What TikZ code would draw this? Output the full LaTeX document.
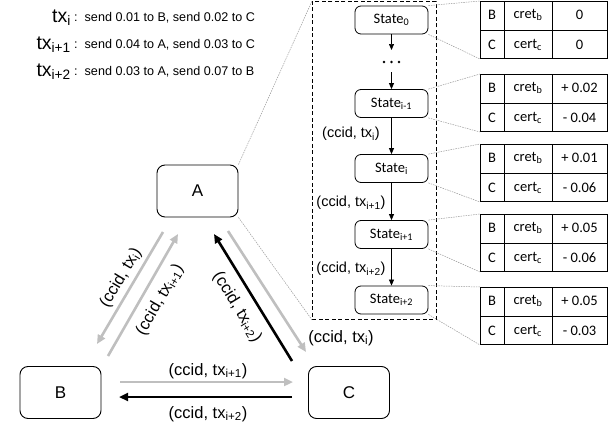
\documentclass[tikz,border=0pt]{standalone}
\usepackage{fontspec}
\setmainfont{Liberation Sans}
\newfontfamily\calib{Carlito}
\usetikzlibrary{arrows.meta}
\colorlet{lgrey}{black!25}
\colorlet{dgrey}{black!40}
\tikzset{
  party/.style={draw, rounded corners=8pt, line width=0.9pt, minimum width=81pt, minimum height=52pt, inner sep=0pt, font=\fontsize{17}{20}\selectfont},
  statebox/.style={draw, rounded corners=6pt, line width=0.8pt, minimum width=73pt, minimum height=28pt, inner sep=0pt, font=\calib\fontsize{14.5}{16}\selectfont},
  msg/.style={line width=2.6pt, -{Triangle[length=9pt,width=8pt]}},
  gmsg/.style={msg, draw=lgrey},
  bmsg/.style={msg, draw=black},
  chainarrow/.style={line width=0.7pt, -{Triangle[length=6pt,width=5pt]}},
  lbl/.style={font=\fontsize{16.5}{19}\selectfont, inner sep=1pt},
  clbl/.style={font=\fontsize{14.5}{17}\selectfont, inner sep=1pt},
  txl/.style={anchor=east, inner sep=0pt, font=\fontsize{19.5}{22}\selectfont},
  txd/.style={anchor=west, inner sep=0pt, font=\fontsize{12.6}{15}\selectfont},
  guide/.style={draw=dgrey, line width=0.5pt, dash pattern=on 1.5pt off 1pt},
  cell/.style={font=\calib\fontsize{14.5}{16}\selectfont, inner sep=0pt},
  dot/.style={circle, fill=black, inner sep=0pt, minimum size=2.6pt},
}
\newcommand{\balancetable}[4]{%
  \node[draw, line width=1pt, minimum width=127pt, minimum height=57pt, inner sep=0pt, anchor=north west] (#1) at (480,#2) {};
  \draw[line width=1pt] (#1.west) -- (#1.east);
  \draw[line width=1pt] ([xshift=24pt]#1.north west) -- ([xshift=24pt]#1.south west);
  \draw[line width=1pt] ([xshift=72pt]#1.north west) -- ([xshift=72pt]#1.south west);
  \node[cell] (#1b) at ([xshift=12pt,yshift=-14.25pt]#1.north west) {B};
  \node[cell] (#1c) at ([xshift=12pt,yshift=14.25pt]#1.south west) {C};
  \node[cell] (#1rb) at ([xshift=48pt,yshift=-14.25pt]#1.north west) {cret\textsubscript{b}};
  \node[cell] (#1rc) at ([xshift=48pt,yshift=14.25pt]#1.south west) {cert\textsubscript{c}};
  \node[cell] (#1vb) at ([xshift=99.5pt,yshift=-14.25pt]#1.north west) {#3};
  \node[cell] (#1vc) at ([xshift=99.5pt,yshift=14.25pt]#1.south west) {#4};
}
\begin{document}
\begin{tikzpicture}[x=1pt,y=-1pt]
\useasboundingbox (0,0) rectangle (616,423);

% transaction list
\node[txl] (t1) at (71,18) {tx\textsubscript{i}};
\node[txl] (t2) at (71,45) {tx\textsubscript{i+1}};
\node[txl] (t3) at (71,72) {tx\textsubscript{i+2}};
\node[txd] (d1) at (74,18) {:\hspace{7pt}send 0.01 to B, send 0.02 to C};
\node[txd] (d2) at (74,45) {:\hspace{7pt}send 0.04 to A, send 0.03 to C};
\node[txd] (d3) at (74,72) {:\hspace{7pt}send 0.03 to A, send 0.07 to B};

% parties
\node[party] (A) at (197.5,191) {A};
\node[party] (B) at (60.5,392.5) {B};
\node[party] (C) at (349,392.5) {C};

% state chain frame
\node[draw, line width=0.9pt, dash pattern=on 4pt off 2.5pt, minimum width=124pt, minimum height=318pt, inner sep=0pt, anchor=north west] (frame) at (312,1) {};

\node[statebox] (S0) at (391.5,20) {State\textsubscript{0}};
\node[dot] (dt1) at (384,62) {};
\node[dot] (dt2) at (391.5,62) {};
\node[dot] (dt3) at (399,62) {};
\node[statebox] (S1) at (391.5,103.5) {State\textsubscript{i-1}};
\node[statebox] (S2) at (391.5,168.5) {State\textsubscript{i}};
\node[statebox] (S3) at (391.5,234.5) {State\textsubscript{i+1}};
\node[statebox] (S4) at (391.5,300) {State\textsubscript{i+2}};

\coordinate (dtop) at (391.5,50);
\coordinate (dbot) at (391.5,72);
\draw[chainarrow] (S0.south) -- (dtop);
\draw[chainarrow] (dbot) -- (S1.north);
\draw[chainarrow] (S1.south) -- (S2.north);
\draw[chainarrow] (S2.south) -- (S3.north);
\draw[chainarrow] (S3.south) -- (S4.north);
\node[clbl] (c1) at (351,134) {(ccid, tx\textsubscript{i})};
\node[clbl] (c2) at (351,203) {(ccid, tx\textsubscript{i+1})};
\node[clbl] (c3) at (351,269) {(ccid, tx\textsubscript{i+2})};

% tables
\balancetable{T0}{1}{0}{0}
\balancetable{T1}{74}{+ 0.02}{- 0.04}
\balancetable{T2}{144}{+ 0.01}{- 0.06}
\balancetable{T3}{214}{+ 0.05}{- 0.06}
\balancetable{T4}{287}{+ 0.05}{- 0.03}

% guides
\draw[guide] (A.north east) -- (frame.north west);
\draw[guide] (A.south east) -- (frame.south west);
\foreach \s/\t in {S0/T0,S1/T1,S2/T2,S3/T3,S4/T4}{
  \draw[guide] (\s.north east) -- (\t.north west);
  \draw[guide] (\s.south east) -- (\t.south west);
}

% messages
\coordinate (ab1) at (163,232); \coordinate (ab2) at (97,344);
\coordinate (ba1) at (108,356); \coordinate (ba2) at (178,234);
\coordinate (ca1) at (292,361); \coordinate (ca2) at (214,234);
\coordinate (ac1) at (228,231); \coordinate (ac2) at (306,352);
\coordinate (bc1) at (120,382); \coordinate (bc2) at (293,382);
\coordinate (cb1) at (292,397); \coordinate (cb2) at (119,397);
\draw[gmsg] (ab1) -- (ab2);
\draw[gmsg] (ba1) -- (ba2);
\draw[bmsg] (ca1) -- (ca2);
\draw[gmsg] (ac1) -- (ac2);
\draw[gmsg] (bc1) -- (bc2);
\draw[bmsg] (cb1) -- (cb2);

\node[lbl, rotate=59] (m1) at (121,278) {(ccid, tx\textsubscript{i})};
\node[lbl, rotate=60] (m2) at (160,300) {(ccid, tx\textsubscript{i+1})};
\node[lbl, rotate=-58.5] (m3) at (237,307) {(ccid, tx\textsubscript{i+2})};
\node[lbl] (m4) at (341,338) {(ccid, tx\textsubscript{i})};
\node[lbl] (m5) at (208,371) {(ccid, tx\textsubscript{i+1})};
\node[lbl] (m6) at (208,414) {(ccid, tx\textsubscript{i+2})};
\end{tikzpicture}
\end{document}
